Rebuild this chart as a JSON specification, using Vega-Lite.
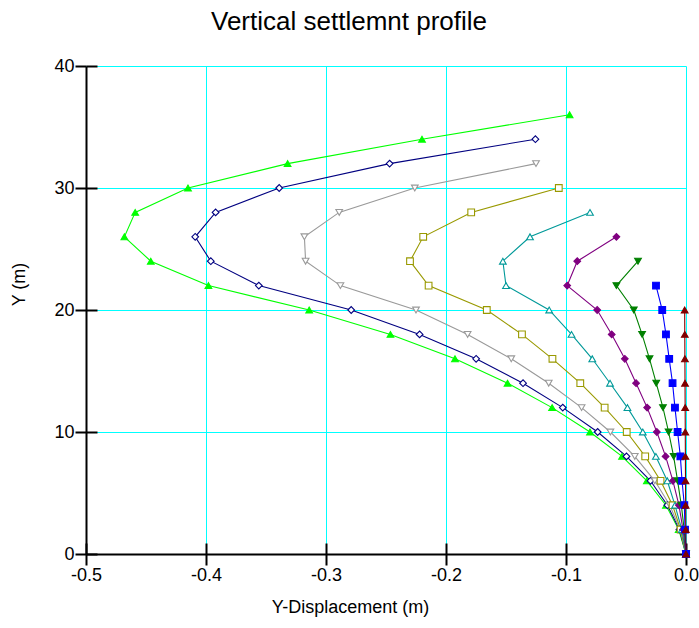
{
  "$schema": "https://vega.github.io/schema/vega-lite/v6.json",
  "width": 600,
  "height": 488,
  "autosize": {"type": "none"},
  "padding": {"left": 86, "top": 66, "right": 13, "bottom": 74},
  "background": "white",
  "config": {
    "view": {"stroke": null},
    "font": "Liberation Sans",
    "axis": {"gridColor": "#00FFFF", "gridOpacity": 1, "gridWidth": 1}
  },
  "title": {
    "text": "Vertical settlemnt profile",
    "fontSize": 26,
    "fontWeight": "normal",
    "font": "Liberation Sans",
    "color": "black",
    "anchor": "middle",
    "dx": -37,
    "offset": 22
  },
  "data": {
    "values": [
      {"s": "s1", "y": 0, "x": 0}, {"s": "s1", "y": 2, "x": -0.0061}, {"s": "s1", "y": 4, "x": -0.0167}, {"s": "s1", "y": 6, "x": -0.0326}, {"s": "s1", "y": 8, "x": -0.0533}, {"s": "s1", "y": 10, "x": -0.080}, {"s": "s1", "y": 12, "x": -0.1116}, {"s": "s1", "y": 14, "x": -0.1487}, {"s": "s1", "y": 16, "x": -0.1925}, {"s": "s1", "y": 18, "x": -0.2463}, {"s": "s1", "y": 20, "x": -0.314}, {"s": "s1", "y": 22, "x": -0.398}, {"s": "s1", "y": 24, "x": -0.446}, {"s": "s1", "y": 26, "x": -0.468}, {"s": "s1", "y": 28, "x": -0.459}, {"s": "s1", "y": 30, "x": -0.415}, {"s": "s1", "y": 32, "x": -0.332}, {"s": "s1", "y": 34, "x": -0.220}, {"s": "s1", "y": 36, "x": -0.097},
      {"s": "s2", "y": 0, "x": 0}, {"s": "s2", "y": 2, "x": -0.0055}, {"s": "s2", "y": 4, "x": -0.0155}, {"s": "s2", "y": 6, "x": -0.0296}, {"s": "s2", "y": 8, "x": -0.0496}, {"s": "s2", "y": 10, "x": -0.0736}, {"s": "s2", "y": 12, "x": -0.1027}, {"s": "s2", "y": 14, "x": -0.1358}, {"s": "s2", "y": 16, "x": -0.1749}, {"s": "s2", "y": 18, "x": -0.222}, {"s": "s2", "y": 20, "x": -0.279}, {"s": "s2", "y": 22, "x": -0.356}, {"s": "s2", "y": 24, "x": -0.396}, {"s": "s2", "y": 26, "x": -0.409}, {"s": "s2", "y": 28, "x": -0.392}, {"s": "s2", "y": 30, "x": -0.339}, {"s": "s2", "y": 32, "x": -0.247}, {"s": "s2", "y": 34, "x": -0.1255},
      {"s": "s3", "y": 0, "x": 0}, {"s": "s3", "y": 2, "x": -0.005}, {"s": "s3", "y": 4, "x": -0.0135}, {"s": "s3", "y": 6, "x": -0.026}, {"s": "s3", "y": 8, "x": -0.0427}, {"s": "s3", "y": 10, "x": -0.063}, {"s": "s3", "y": 12, "x": -0.087}, {"s": "s3", "y": 14, "x": -0.1144}, {"s": "s3", "y": 16, "x": -0.1456}, {"s": "s3", "y": 18, "x": -0.182}, {"s": "s3", "y": 20, "x": -0.225}, {"s": "s3", "y": 22, "x": -0.288}, {"s": "s3", "y": 24, "x": -0.317}, {"s": "s3", "y": 26, "x": -0.318}, {"s": "s3", "y": 28, "x": -0.289}, {"s": "s3", "y": 30, "x": -0.226}, {"s": "s3", "y": 32, "x": -0.125},
      {"s": "s4", "y": 0, "x": 0}, {"s": "s4", "y": 2, "x": -0.0045}, {"s": "s4", "y": 4, "x": -0.0112}, {"s": "s4", "y": 6, "x": -0.0212}, {"s": "s4", "y": 8, "x": -0.034}, {"s": "s4", "y": 10, "x": -0.0494}, {"s": "s4", "y": 12, "x": -0.0678}, {"s": "s4", "y": 14, "x": -0.0881}, {"s": "s4", "y": 16, "x": -0.1113}, {"s": "s4", "y": 18, "x": -0.1367}, {"s": "s4", "y": 20, "x": -0.166}, {"s": "s4", "y": 22, "x": -0.2145}, {"s": "s4", "y": 24, "x": -0.230}, {"s": "s4", "y": 26, "x": -0.219}, {"s": "s4", "y": 28, "x": -0.179}, {"s": "s4", "y": 30, "x": -0.106},
      {"s": "s5", "y": 0, "x": 0}, {"s": "s5", "y": 2, "x": -0.0035}, {"s": "s5", "y": 4, "x": -0.0092}, {"s": "s5", "y": 6, "x": -0.0156}, {"s": "s5", "y": 8, "x": -0.0251}, {"s": "s5", "y": 10, "x": -0.036}, {"s": "s5", "y": 12, "x": -0.0488}, {"s": "s5", "y": 14, "x": -0.0633}, {"s": "s5", "y": 16, "x": -0.0781}, {"s": "s5", "y": 18, "x": -0.0954}, {"s": "s5", "y": 20, "x": -0.114}, {"s": "s5", "y": 22, "x": -0.150}, {"s": "s5", "y": 24, "x": -0.1526}, {"s": "s5", "y": 26, "x": -0.130}, {"s": "s5", "y": 28, "x": -0.080},
      {"s": "s6", "y": 0, "x": 0}, {"s": "s6", "y": 2, "x": -0.0025}, {"s": "s6", "y": 4, "x": -0.0059}, {"s": "s6", "y": 6, "x": -0.0109}, {"s": "s6", "y": 8, "x": -0.017}, {"s": "s6", "y": 10, "x": -0.0243}, {"s": "s6", "y": 12, "x": -0.0324}, {"s": "s6", "y": 14, "x": -0.0416}, {"s": "s6", "y": 16, "x": -0.051}, {"s": "s6", "y": 18, "x": -0.0619}, {"s": "s6", "y": 20, "x": -0.074}, {"s": "s6", "y": 22, "x": -0.099}, {"s": "s6", "y": 24, "x": -0.0906}, {"s": "s6", "y": 26, "x": -0.058},
      {"s": "s7", "y": 0, "x": 0}, {"s": "s7", "y": 2, "x": -0.0015}, {"s": "s7", "y": 4, "x": -0.0039}, {"s": "s7", "y": 6, "x": -0.007}, {"s": "s7", "y": 8, "x": -0.0103}, {"s": "s7", "y": 10, "x": -0.0145}, {"s": "s7", "y": 12, "x": -0.0192}, {"s": "s7", "y": 14, "x": -0.0248}, {"s": "s7", "y": 16, "x": -0.0304}, {"s": "s7", "y": 18, "x": -0.0366}, {"s": "s7", "y": 20, "x": -0.0435}, {"s": "s7", "y": 22, "x": -0.058}, {"s": "s7", "y": 24, "x": -0.040},
      {"s": "s8", "y": 0, "x": 0}, {"s": "s8", "y": 2, "x": -0.0008}, {"s": "s8", "y": 4, "x": -0.0014}, {"s": "s8", "y": 6, "x": -0.0033}, {"s": "s8", "y": 8, "x": -0.0047}, {"s": "s8", "y": 10, "x": -0.007}, {"s": "s8", "y": 12, "x": -0.0092}, {"s": "s8", "y": 14, "x": -0.0112}, {"s": "s8", "y": 16, "x": -0.014}, {"s": "s8", "y": 18, "x": -0.0167}, {"s": "s8", "y": 20, "x": -0.0198}, {"s": "s8", "y": 22, "x": -0.025},
      {"s": "s9", "y": 0, "x": 0}, {"s": "s9", "y": 2, "x": -0.0002}, {"s": "s9", "y": 4, "x": -0.0003}, {"s": "s9", "y": 6, "x": -0.0004}, {"s": "s9", "y": 8, "x": -0.0005}, {"s": "s9", "y": 10, "x": -0.0006}, {"s": "s9", "y": 12, "x": -0.0007}, {"s": "s9", "y": 14, "x": -0.0008}, {"s": "s9", "y": 16, "x": -0.0009}, {"s": "s9", "y": 18, "x": -0.001}, {"s": "s9", "y": 20, "x": -0.0011}
    ]
  },
  "layer": [
    {
      "mark": {"type": "line", "strokeWidth": 1.1, "clip": false},
      "encoding": {
        "x": {
          "field": "x", "type": "quantitative",
          "scale": {"domain": [-0.5, 0], "nice": false, "zero": false},
          "axis": {
            "values": [-0.5, -0.4, -0.3, -0.2, -0.1, 0],
            "labelExpr": "datum.value == 0 ? '0.0' : '-' + format(abs(datum.value), '.1f')",
            "title": "Y-Displacement (m)",
            "titleX": 264, "titleY": 53, "titleBaseline": "middle", "titleAlign": "center",
            "titleFont": "Liberation Sans", "titleFontSize": 18, "titleFontWeight": "normal", "titleColor": "black",
            "labelFont": "Liberation Sans", "labelFontSize": 18, "labelColor": "black", "labelPadding": 1, "labelFlush": false, "labelOverlap": false,
            "domainColor": "black", "domainWidth": 2,
            "tickColor": "black", "tickWidth": 2, "tickSize": 11,
            "grid": true, "gridColor": "#00FFFF", "gridWidth": 1, "gridOpacity": 1
          }
        },
        "y": {
          "field": "y", "type": "quantitative",
          "scale": {"domain": [0, 40], "nice": false, "zero": false},
          "axis": {
            "values": [0, 10, 20, 30, 40],
            "title": "Y (m)",
            "titleAngle": -90, "titleX": -67, "titleY": 218, "titleBaseline": "middle", "titleAlign": "center",
            "titleFont": "Liberation Sans", "titleFontSize": 18, "titleFontWeight": "normal", "titleColor": "black",
            "labelFont": "Liberation Sans", "labelFontSize": 18, "labelColor": "black", "labelPadding": 1, "labelFlush": false, "labelOverlap": false,
            "domainColor": "black", "domainWidth": 2,
            "tickColor": "black", "tickWidth": 2, "tickSize": 11,
            "grid": true, "gridColor": "#00FFFF", "gridWidth": 1, "gridOpacity": 1
          }
        },
        "color": {
          "field": "s", "type": "nominal", "legend": null,
          "scale": {
            "domain": ["s1", "s2", "s3", "s4", "s5", "s6", "s7", "s8", "s9"],
            "range": ["#00FF00", "#000080", "#999999", "#999900", "#009999", "#800080", "#008000", "#0000FF", "#800000"]
          }
        },
        "detail": {"field": "s"},
        "order": {"field": "y", "type": "quantitative"}
      }
    },
    {
      "mark": {"type": "point", "filled": true, "size": 45, "strokeWidth": 1.1, "opacity": 1, "clip": false},
      "encoding": {
        "x": {
          "field": "x", "type": "quantitative",
          "axis": {"orient": "bottom", "labels": false, "domain": false, "grid": false, "title": null, "ticks": true, "tickColor": "black", "tickWidth": 2, "tickSize": -11, "values": [-0.5, -0.4, -0.3, -0.2, -0.1, 0]}
        },
        "y": {
          "field": "y", "type": "quantitative",
          "axis": {"orient": "left", "labels": false, "domain": false, "grid": false, "title": null, "ticks": true, "tickColor": "black", "tickWidth": 2, "tickSize": -11, "values": [0, 10, 20, 30, 40]}
        },
        "shape": {
          "field": "s", "type": "nominal", "legend": null,
          "scale": {
            "domain": ["s1", "s2", "s3", "s4", "s5", "s6", "s7", "s8", "s9"],
            "range": ["triangle-up", "diamond", "triangle-down", "square", "triangle-up", "diamond", "triangle-down", "square", "triangle-up"]
          }
        },
        "stroke": {
          "field": "s", "type": "nominal", "legend": null,
          "scale": {
            "domain": ["s1", "s2", "s3", "s4", "s5", "s6", "s7", "s8", "s9"],
            "range": ["#00FF00", "#000080", "#999999", "#999900", "#009999", "#800080", "#008000", "#0000FF", "#800000"]
          }
        },
        "fill": {
          "field": "s", "type": "nominal", "legend": null,
          "scale": {
            "domain": ["s1", "s2", "s3", "s4", "s5", "s6", "s7", "s8", "s9"],
            "range": ["#00FF00", "#FFFFFF", "#FFFFFF", "#FFFFFF", "#FFFFFF", "#800080", "#008000", "#0000FF", "#800000"]
          }
        }
      }
    }
  ],
  "resolve": {"axis": {"x": "independent", "y": "independent"}}
}
